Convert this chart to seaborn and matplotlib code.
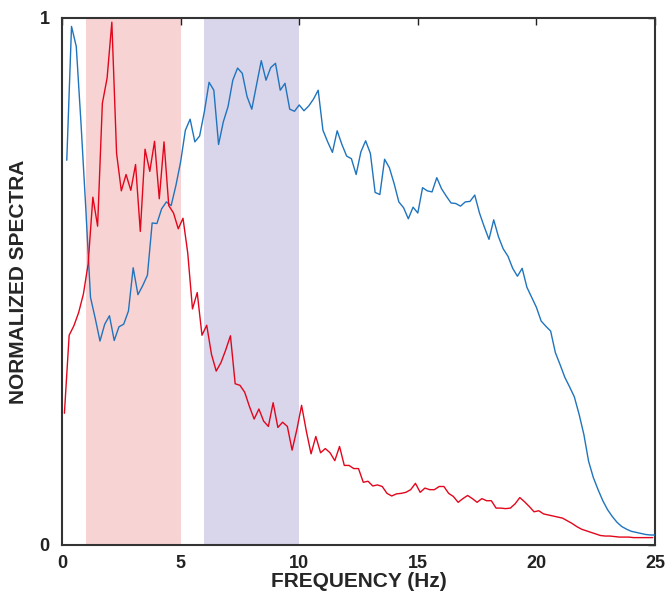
import numpy as np
import pandas as pd
import matplotlib
matplotlib.use("Agg")
import matplotlib.pyplot as plt
import seaborn as sns

# frequency grids (Hz): blue sampled at 0.2, 0.4, ... ; red offset by 0.1
freq_blue = np.round(np.arange(1, 126) * 0.2, 1)
freq_red = np.round(np.arange(0, 125) * 0.2 + 0.1, 1)

spec_blue = [
    0.73, 0.984, 0.946, 0.80, 0.64, 0.47, 0.43, 0.387, 0.419, 0.435,
    0.388, 0.414, 0.419, 0.444, 0.526, 0.475, 0.492, 0.512, 0.611, 0.61,
    0.638, 0.651, 0.644, 0.682, 0.727, 0.787, 0.808, 0.765, 0.776, 0.822,
    0.878, 0.863, 0.76, 0.803, 0.832, 0.882, 0.905, 0.895, 0.851, 0.827,
    0.873, 0.919, 0.882, 0.906, 0.914, 0.863, 0.876, 0.827, 0.823, 0.835,
    0.824, 0.833, 0.846, 0.863, 0.787, 0.765, 0.745, 0.786, 0.76, 0.738,
    0.733, 0.703, 0.746, 0.767, 0.743, 0.669, 0.665, 0.732, 0.716, 0.686,
    0.651, 0.64, 0.619, 0.641, 0.63, 0.678, 0.672, 0.67, 0.697, 0.676,
    0.662, 0.649, 0.648, 0.643, 0.651, 0.652, 0.664, 0.63, 0.604, 0.58,
    0.617, 0.585, 0.562, 0.548, 0.525, 0.51, 0.525, 0.489, 0.47, 0.451,
    0.425, 0.415, 0.406, 0.365, 0.342, 0.318, 0.30, 0.281, 0.248, 0.21,
    0.159, 0.128, 0.105, 0.084, 0.067, 0.054, 0.043, 0.035, 0.03, 0.026,
    0.024, 0.022, 0.02, 0.019, 0.019,
]

spec_red = [
    0.25, 0.398, 0.416, 0.441, 0.476, 0.533, 0.66, 0.605, 0.838, 0.886,
    0.992, 0.743, 0.672, 0.703, 0.673, 0.722, 0.595, 0.751, 0.709, 0.766,
    0.657, 0.765, 0.644, 0.63, 0.60, 0.62, 0.554, 0.448, 0.479, 0.398,
    0.417, 0.362, 0.33, 0.346, 0.37, 0.397, 0.306, 0.303, 0.29, 0.263,
    0.239, 0.258, 0.235, 0.225, 0.27, 0.223, 0.233, 0.225, 0.18, 0.219,
    0.265, 0.216, 0.173, 0.206, 0.175, 0.183, 0.175, 0.16, 0.187, 0.151,
    0.151, 0.145, 0.145, 0.119, 0.121, 0.112, 0.114, 0.111, 0.098, 0.093,
    0.097, 0.098, 0.10, 0.105, 0.117, 0.10, 0.108, 0.105, 0.105, 0.111,
    0.111, 0.098, 0.092, 0.081, 0.088, 0.094, 0.088, 0.081, 0.088, 0.084,
    0.084, 0.07, 0.07, 0.069, 0.07, 0.078, 0.09, 0.082, 0.073, 0.063,
    0.065, 0.059, 0.057, 0.055, 0.053, 0.051, 0.046, 0.041, 0.035, 0.03,
    0.027, 0.024, 0.021, 0.018, 0.017, 0.017, 0.016, 0.015, 0.015, 0.015,
    0.014, 0.014, 0.014, 0.014, 0.014,
]

bands = [(1, 5, "#f8d3d4"), (6, 10, "#d9d5ea")]

df_blue = pd.DataFrame({"freq": freq_blue, "spec": spec_blue})
df_red = pd.DataFrame({"freq": freq_red, "spec": spec_red})

sns.set_style("white")
plt.rcParams["font.family"] = ["Liberation Sans", "DejaVu Sans"]

fig = plt.figure(figsize=(6.67, 5.92), dpi=100)
ax = fig.add_axes([0.093, 0.0794, 0.889, 0.8902])

for lo, hi, col in bands:
    ax.axvspan(lo, hi, color=col, lw=0, zorder=0)

sns.lineplot(data=df_blue, x="freq", y="spec", color="#1f74bd", lw=1.0, ax=ax, zorder=3)
sns.lineplot(data=df_red, x="freq", y="spec", color="#e2061c", lw=1.0, ax=ax, zorder=3)

ax.set_xlim(0, 25)
ax.set_ylim(0, 1)
ax.set_xticks([0, 5, 10, 15, 20, 25])
ax.set_yticks([0, 1])
ax.tick_params(direction="in", length=5, width=1, top=True, right=True,
               labelsize=13, colors="#222222")
ax.tick_params(axis="x", pad=7)
ax.tick_params(axis="y", pad=9)
for lab in ax.get_xticklabels() + ax.get_yticklabels():
    lab.set_fontweight("bold")
for sp in ax.spines.values():
    sp.set_color("#333333")
    sp.set_linewidth(1.5)

ax.set_xlabel("FREQUENCY (Hz)", fontsize=15, fontweight="bold", labelpad=0)
ax.set_ylabel("NORMALIZED SPECTRA", fontsize=15, fontweight="bold", labelpad=8)

fig.savefig("out.png", dpi=100)
